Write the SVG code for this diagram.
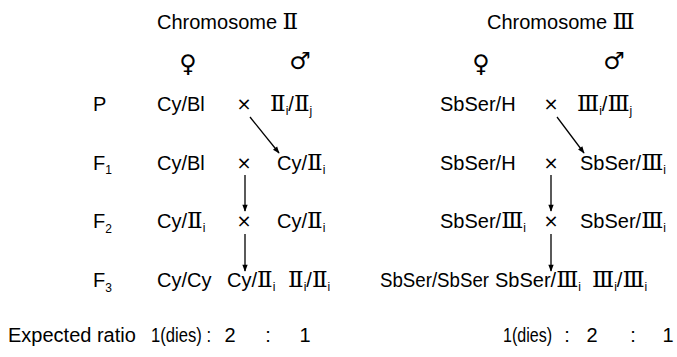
<svg xmlns="http://www.w3.org/2000/svg" width="677" height="357" viewBox="0 0 677 357">
  <style>
    text { font-family: "Liberation Sans", Arial, sans-serif; font-size: 20px; fill: #000; }
    .rn { font-family: "DejaVu Serif", "Noto Sans CJK JP", serif; font-size: 23px; }
    .sub { font-size: 12px; }
    .x { font-family: "DejaVu Sans", sans-serif; font-size: 18px; }
    .sex { font-family: "DejaVu Sans", sans-serif; font-size: 24px; }
    .conn line { stroke: #000; stroke-width: 1.3; marker-end: url(#head); }
  </style>
  <defs>
    <marker id="head" viewBox="0 0 10 10" refX="9" refY="5" markerWidth="9" markerHeight="7" orient="auto" markerUnits="userSpaceOnUse">
      <path d="M0,1.2 L10,5 L0,8.8 Z" fill="#000"/>
    </marker>
  </defs>

  <!-- column headings -->
  <g id="head-chr2"><text x="157" y="29">Chromosome <tspan class="rn">Ⅱ</tspan></text></g>
  <g id="head-chr3"><text x="487" y="29">Chromosome <tspan class="rn">Ⅲ</tspan></text></g>
  <g id="sex-f2"><text class="sex" x="188" y="72" text-anchor="middle">♀</text></g>
  <g id="sex-m2"><text class="sex" x="300" y="69" text-anchor="middle">♂</text></g>
  <g id="sex-f3"><text class="sex" x="481" y="72" text-anchor="middle">♀</text></g>
  <g id="sex-m3"><text class="sex" x="614" y="69" text-anchor="middle">♂</text></g>

  <!-- generation labels -->
  <g id="gen-p"><text x="93" y="111">P</text></g>
  <g id="gen-f1"><text x="93" y="170">F<tspan class="sub" dy="4">1</tspan></text></g>
  <g id="gen-f2"><text x="93" y="228">F<tspan class="sub" dy="5">2</tspan></text></g>
  <g id="gen-f3"><text x="93" y="287">F<tspan class="sub" dy="5">3</tspan></text></g>
  <g id="gen-ratio"><text x="8" y="342">Expected ratio</text></g>

  <!-- chromosome II crosses -->
  <g id="c2-p-f"><text x="157" y="111">Cy/Bl</text></g>
  <g id="c2-p-x"><text class="x" x="244" y="110" text-anchor="middle">×</text></g>
  <g id="c2-p-m"><text x="270" y="111"><tspan class="rn">Ⅱ</tspan><tspan class="sub" dy="4">i</tspan><tspan dy="-4">/</tspan><tspan class="rn">Ⅱ</tspan><tspan class="sub" dy="4">j</tspan></text></g>

  <g id="c2-f1-f"><text x="157" y="170">Cy/Bl</text></g>
  <g id="c2-f1-x"><text class="x" x="244" y="169" text-anchor="middle">×</text></g>
  <g id="c2-f1-m"><text x="277" y="170">Cy/<tspan class="rn">Ⅱ</tspan><tspan class="sub" dy="4">i</tspan></text></g>

  <g id="c2-f2-f"><text x="157" y="228">Cy/<tspan class="rn">Ⅱ</tspan><tspan class="sub" dy="4">i</tspan></text></g>
  <g id="c2-f2-x"><text class="x" x="244" y="227" text-anchor="middle">×</text></g>
  <g id="c2-f2-m"><text x="277" y="228">Cy/<tspan class="rn">Ⅱ</tspan><tspan class="sub" dy="4">i</tspan></text></g>

  <g id="c2-f3-a"><text x="157" y="287">Cy/Cy</text></g>
  <g id="c2-f3-b"><text x="227" y="287">Cy/<tspan class="rn">Ⅱ</tspan><tspan class="sub" dy="4">i</tspan></text></g>
  <g id="c2-f3-c"><text x="288" y="287"><tspan class="rn">Ⅱ</tspan><tspan class="sub" dy="4">i</tspan><tspan dy="-4">/</tspan><tspan class="rn">Ⅱ</tspan><tspan class="sub" dy="4">i</tspan></text></g>

  <g id="c2-ratio">
    <text x="151" y="342" textLength="60" lengthAdjust="spacingAndGlyphs">1(dies) :</text>
    <text x="230" y="342" text-anchor="middle">2</text>
    <text x="268" y="342" text-anchor="middle">:</text>
    <text x="305" y="342" text-anchor="middle">1</text>
  </g>

  <!-- chromosome III crosses -->
  <g id="c3-p-f"><text x="440" y="111">SbSer/H</text></g>
  <g id="c3-p-x"><text class="x" x="551" y="110" text-anchor="middle">×</text></g>
  <g id="c3-p-m"><text x="577" y="111"><tspan class="rn">Ⅲ</tspan><tspan class="sub" dy="4">i</tspan><tspan dy="-4">/</tspan><tspan class="rn">Ⅲ</tspan><tspan class="sub" dy="4">j</tspan></text></g>

  <g id="c3-f1-f"><text x="440" y="170">SbSer/H</text></g>
  <g id="c3-f1-x"><text class="x" x="551" y="169" text-anchor="middle">×</text></g>
  <g id="c3-f1-m"><text x="580" y="170">SbSer/<tspan class="rn">Ⅲ</tspan><tspan class="sub" dy="4">i</tspan></text></g>

  <g id="c3-f2-f"><text x="440" y="228">SbSer/<tspan class="rn">Ⅲ</tspan><tspan class="sub" dy="4">i</tspan></text></g>
  <g id="c3-f2-x"><text class="x" x="551" y="227" text-anchor="middle">×</text></g>
  <g id="c3-f2-m"><text x="580" y="228">SbSer/<tspan class="rn">Ⅲ</tspan><tspan class="sub" dy="4">i</tspan></text></g>

  <g id="c3-f3-a"><text x="380" y="287" textLength="109" lengthAdjust="spacingAndGlyphs">SbSer/SbSer</text></g>
  <g id="c3-f3-b"><text x="495" y="287">SbSer/<tspan class="rn">Ⅲ</tspan><tspan class="sub" dy="4">i</tspan></text></g>
  <g id="c3-f3-c"><text x="592" y="287"><tspan class="rn">Ⅲ</tspan><tspan class="sub" dy="4">i</tspan><tspan dy="-4">/</tspan><tspan class="rn">Ⅲ</tspan><tspan class="sub" dy="4">i</tspan></text></g>

  <g id="c3-ratio">
    <text x="503" y="342" textLength="49" lengthAdjust="spacingAndGlyphs">1(dies)</text>
    <text x="567" y="342" text-anchor="middle">:</text>
    <text x="592" y="342" text-anchor="middle">2</text>
    <text x="633" y="342" text-anchor="middle">:</text>
    <text x="668" y="342" text-anchor="middle">1</text>
  </g>

  <!-- descent arrows -->
  <g id="connectors" class="conn">
    <line x1="250" y1="117" x2="279" y2="153"/>
    <line x1="245" y1="175" x2="245" y2="211"/>
    <line x1="245" y1="234" x2="245" y2="271"/>
    <line x1="557" y1="117" x2="584" y2="153"/>
    <line x1="551" y1="175" x2="551" y2="211"/>
    <line x1="551" y1="234" x2="551" y2="271"/>
  </g>
</svg>
